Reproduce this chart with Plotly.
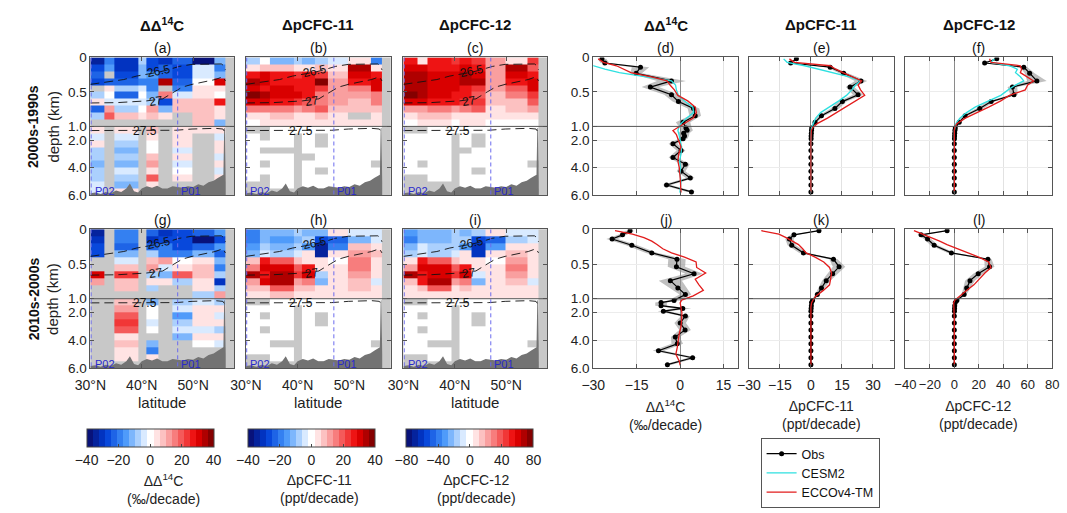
import plotly.graph_objects as go

# ---------------------------------------------------------------- data
N = None
LAT_EDGES = [30, 32.8, 34.7, 39.3, 40.9, 43.3, 45.9, 49.8, 54.1, 56.3]
DEPTH_EDGES = [0, 0.1, 0.2, 0.3, 0.4, 0.5, 0.6, 0.7, 0.8, 0.9, 1.0,
               1.5, 2.0, 2.5, 3.0, 3.5, 4.0, 4.5, 5.0, 5.5, 6.0]

# (a) DD14C 2000s-1990s
D14C_A = [
    [-36, -20, -30, -8, -28, -30, -24, -38, -12],
    [-26, -14, -30, -10, -26, -22, -28, -3, -20],
    [-22, N, -26, -12, -16, -24, -28, -2, -10],
    [-26, -22, -22, -20, -18, 36, -24, 1, 30],
    [N, 3, -8, -2, -20, N, -20, 2, 5],
    [-8, 1, -22, 0, -10, 16, -4, 4, 0],
    [3, -5, -4, -3, -8, -26, 6, 6, 28],
    [-22, 12, -8, 1, 10, -10, 8, 6, 5],
    [-8, 20, 8, 2, 6, 3, N, 8, 2],
    [N, N, N, N, N, N, N, 6, -10],
    [4, N, 3, N, 6, N, 5, 5, 4],
    [-3, N, -5, N, 2, N, 2, N, -2],
    [4, N, -8, N, 1, N, 4, N, 3],
    [-6, N, -10, N, 0, N, -3, N, 4],
    [-8, N, -6, N, 8, N, 2, N, -2],
    [-10, N, -10, N, 10, N, -4, N, 5],
    [-6, N, -4, N, 2, N, 0, N, -3],
    [-8, N, -8, N, 18, N, 3, N, 2],
    [-5, N, -10, N, 4, N, N, N, N],
    [-3, N, 3, N, N, N, N, N, N],
]
# (b) DpCFC-11 2000s-1990s
CFC11_A = [
    [-8, 1, -10, -8, -10, -8, -5, 2, -20],
    [2, 8, 6, 3, 5, 6, 2, 36, 4],
    [28, 30, 26, 24, 26, 22, 8, 30, 26],
    [34, 30, 28, 26, 28, 38, 10, 28, 32],
    [32, 28, 30, 28, 26, 22, 12, 14, 30],
    [38, 36, 32, 30, 26, 16, 12, 12, 16],
    [32, 30, 28, 24, 18, 14, 12, 8, 14],
    [14, 16, 14, 12, 14, 20, 6, 8, 6],
    [2, 5, 6, 4, 5, 6, 3, N, 4],
    [1, 2, 3, 2, 2, 3, 2, 4, 2],
    [N, N, 0, 0, 1, 0, 0, 0, 0],
    [0, N, 0, N, 0, N, 0, 0, 0],
    [0, 0, 0, N, 0, N, 0, 0, 0],
    [0, N, N, N, 0, 0, 0, 0, 0],
    [0, 0, 0, N, N, 0, 0, 0, 0],
    [0, N, 0, N, 0, 0, 0, 0, N],
    [0, 0, 0, N, 0, N, 0, 0, 0],
    [0, N, 0, N, 0, 0, 0, 0, 0],
    [N, N, 0, N, 0, 0, 0, 0, 0],
    [N, N, N, N, N, N, N, N, N],
]
# (c) DpCFC-12 2000s-1990s
CFC12_A = [
    [50, 10, 50, 45, 50, 45, 25, 5, 45],
    [60, 60, 55, 55, 60, 50, 25, 72, 40],
    [65, 70, 60, 60, 65, 60, 25, 60, 55],
    [72, 72, 60, 62, 70, 66, 22, 50, 60],
    [70, 65, 62, 60, 55, 45, 20, 35, 62],
    [74, 72, 62, 55, 50, 40, 18, 30, 45],
    [62, 60, 55, 50, 42, 45, 15, 18, 35],
    [20, 25, 28, 26, 30, 40, 10, 14, 20],
    [5, 12, 14, 10, 10, 10, 4, 5, 8],
    [2, 4, 5, 3, 4, 4, 2, 3, 2],
    [N, N, 0, 0, 0, 0, 0, 0, 0],
    [0, 0, 0, N, 0, N, 0, 0, 0],
    [0, 0, 0, N, 0, N, 0, 0, 0],
    [0, 0, 0, N, N, 0, 0, 0, 0],
    [0, 0, 0, N, 0, 0, 0, 0, 0],
    [0, N, 0, N, 0, 0, 0, 0, N],
    [0, 0, 0, N, 0, N, 0, 0, 0],
    [N, N, 0, N, 0, 0, 0, 0, 0],
    [N, N, N, N, 0, 0, 0, 0, 0],
    [N, N, N, N, N, N, N, N, N],
]
# (g) DD14C 2010s-2000s
D14C_B = [
    [-36, N, -18, N, -22, -30, -28, -22, -16],
    [-30, N, -20, N, -30, -26, -26, -38, -26],
    [-26, N, -22, N, -22, -20, -28, -24, -14],
    [-28, N, -12, N, -8, -20, -18, -10, -24],
    [N, N, -4, N, 6, 10, 0, 2, -10],
    [N, N, 6, N, 12, -4, 3, 6, -20],
    [30, N, 22, N, -6, -10, 20, 8, -6],
    [12, N, 8, N, 2, 4, -6, 4, -30],
    [N, N, 6, N, -6, N, N, 2, -6],
    [N, N, N, N, N, N, N, -8, 12],
    [N, N, 6, N, -10, N, -8, -3, -6],
    [N, N, 10, N, 0, N, -3, 2, 2],
    [N, N, 18, N, 0, N, -14, 4, -3],
    [N, N, 22, N, -5, N, -6, 2, 5],
    [N, N, 20, N, 0, N, -3, -4, -6],
    [N, N, 4, N, N, N, -10, 3, 2],
    [N, N, 8, N, -10, N, N, 0, -3],
    [N, N, 4, N, -20, N, N, N, N],
    [N, N, 3, N, 4, N, N, N, N],
    [N, N, N, N, N, N, N, N, N],
]
# (h) DpCFC-11 2010s-2000s
CFC11_B = [
    [-18, -10, -12, -6, -12, -10, 2, -2, -4],
    [-20, -12, -14, -10, -8, -28, -24, -10, -3],
    [-14, -6, -10, -8, -16, -34, -18, 6, 4],
    [-10, -4, -8, -2, 4, -36, 2, 10, 6],
    [6, 28, 20, 8, 4, 4, 0, 14, 4],
    [14, 30, 32, 18, 28, 4, 2, 14, 2],
    [36, 28, 34, 24, 32, -6, 2, 12, 4],
    [10, 30, 36, 10, 16, -12, 4, 6, -4],
    [6, 8, 20, 6, 6, 4, 4, 6, 2],
    [2, 4, 6, 3, 3, 2, 2, 3, 2],
    [N, N, 0, 0, 0, 0, 0, 0, 0],
    [0, 0, 0, N, 0, 0, 0, 0, 0],
    [0, N, 0, N, 0, N, 0, 0, 0],
    [0, 0, 0, N, 0, N, 0, 0, 0],
    [0, N, 0, N, 0, 0, 0, 0, 0],
    [0, 0, 0, N, 0, 0, 0, 0, 0],
    [0, 0, N, N, 0, 0, 0, 0, N],
    [0, 0, 0, N, 0, 0, 0, 0, 0],
    [N, N, 0, N, 0, 0, 0, 0, 0],
    [N, N, N, N, N, N, N, N, N],
]
# (i) DpCFC-12 2010s-2000s
CFC12_B = [
    [-30, -20, -22, -12, -20, -18, 4, -4, -6],
    [-36, -22, -26, -18, -16, -52, -44, -16, -4],
    [-26, -10, -18, -14, -30, -62, -30, 10, 8],
    [-18, -6, -14, -4, 8, -64, 4, 18, 10],
    [10, 52, 40, 16, 8, 6, 2, 26, 6],
    [26, 58, 60, 36, 52, 8, 4, 28, 4],
    [68, 54, 62, 46, 60, -10, 4, 22, 6],
    [18, 56, 66, 20, 30, -20, 6, 12, -6],
    [10, 14, 36, 10, 12, 6, 6, 10, 4],
    [4, 6, 10, 6, 6, 4, 4, 6, 4],
    [N, N, 0, 0, 0, 0, 0, 0, 0],
    [0, 0, 0, N, 0, 0, 0, 0, 0],
    [0, N, 0, N, 0, N, 0, 0, 0],
    [0, 0, 0, N, 0, N, 0, 0, 0],
    [0, N, 0, N, 0, 0, 0, 0, 0],
    [0, 0, 0, N, 0, 0, 0, 0, 0],
    [0, 0, N, N, 0, 0, 0, 0, N],
    [0, 0, 0, N, 0, 0, 0, 0, 0],
    [N, N, 0, N, 0, 0, 0, 0, 0],
    [N, N, N, N, N, N, N, N, N],
]

BATHY_LAT = [30, 31, 32, 33, 34, 35, 36, 37, 37.7, 38.5, 39.3, 40, 41, 42, 43, 44,
             45, 46, 47, 48, 49, 50, 51, 52, 53, 54, 54.8, 55.4, 55.9, 56.05, 56.2, 56.35]
BATHY_DEP = [5.85, 5.8, 5.9, 5.75, 5.85, 5.65, 5.75, 5.5, 5.15, 5.7, 5.8, 5.5, 5.35, 5.45,
             5.3, 5.5, 5.5, 5.35, 5.4, 5.45, 5.35, 5.4, 5.2, 5.3, 5.05, 4.95, 4.75, 4.6,
             4.5, 1.15, 1.1, 5.0]
MAX_DEPTH = 6.0

ISO265_LAT = [30, 32.7, 36.5, 39, 40.9, 43.5, 45.5, 47.3, 49.8, 53, 55.5, 56.0, 56.3]
ISO265_DEP = [0.39, 0.36, 0.32, 0.27, 0.245, 0.21, 0.17, 0.13, 0.10, 0.095, 0.094, 0.12, 0.18]
ISO27_LAT = [30, 35.2, 40.9, 44.1, 46.3, 47.9, 49.8, 54.3, 55.8, 56.3]
ISO27_DEP = [0.66, 0.655, 0.63, 0.6, 0.5, 0.43, 0.39, 0.32, 0.28, 0.34]
ISO275_LAT = [30, 41.5, 46.6, 49.8, 54.3, 55.8, 56.3]
ISO275_DEP = [1.30, 1.30, 1.28, 1.19, 1.14, 1.19, 1.47]
ISO_LABELS = [("26.5", 43.3, 0.2, -12), ("27", 42.7, 0.63, -8), ("27.5", 40.6, 1.32, 0)]
P02_LAT = 30.15
P01_LAT = 47.0

# profiles
D_OBS = [0.02, 0.08, 0.14, 0.23, 0.34, 0.43, 0.54, 0.64, 0.74, 0.845, 0.94, 1.12,
         1.28, 1.5, 1.7, 1.9, 2.25, 2.75, 3.25, 3.75, 4.25, 4.75, 5.25, 5.75]
D_MOD = [0.02, 0.07, 0.12, 0.17, 0.22, 0.28, 0.34, 0.4, 0.47, 0.55, 0.63, 0.72, 0.8,
         0.88, 0.96, 1.1, 1.3, 1.6, 2.0, 2.5, 3.0, 3.5, 4.0, 4.5, 5.0, 5.5, 5.8]

OBS_D14C_A = [-27, -26, -13.7, -15.2, -3, -10.3, -3, -0.6, 4.6, 5.2, 1.0, 2.0, 2.4, 1.2,
              1.5, 1.0, -2.5, 0.3, -2.5, 1.8, 0.3, 3.5, -4.7, 3.9]
ERR_D14C_A = [1.5, 1.5, 3, 2, 5, 3, 2.5, 2, 2, 2, 2.5, 2, 2, 2, 1.5, 1.5, 1.5, 1.5,
              1.5, 1.5, 1.5, 1.5, 1.5, 1.5]
CESM_D14C_A = [-38, -34, -30.2, -26, -21, -12, -3, -1.6, -1.3, -0.6, 1.5, 4.4, 4.6, 2.2,
               0.3, -0.5, -0.8, -0.4, 0.0, 0.5, 0.3, -0.2, 0.1, 0.0, 0.3, 0.0, -0.1]
ECCO_D14C_A = [-28.3, -26.5, -22, -19.5, -17, -10, -4.5, -3.5, -2, -0.8, 2.6, 5.2, 5.6,
               4.5, 1.2, -1, -2.5, -1.3, -0.5, 0.3, -0.5, -0.8, -0.3, 0.0, 0.1, 0.2, 0.3]

OBS_CFC11_A = [-7, -9.8, 9.3, 15.8, 24.2, 18.9, 22.8, 15.2, 11.6, 5.1, 2.0, 0.4, 0.3,
               0.2, 0.1, 0.1, 0, 0, 0, 0, 0, 0, 0, 0]
ERR_CFC11_A = [1, 1, 1.5, 2, 3, 2, 2.5, 2, 2, 1.5, 1, 0.5, 0.5, 0.4, 0.3, 0.3, 0.3,
               0.3, 0.3, 0.3, 0.3, 0.3, 0.3, 0.3]
CESM_CFC11_A = [-13.2, -11.5, -3, 3.5, 10, 18.6, 24, 21.5, 19.8, 17.2, 13.5, 8.5, 4.7,
                2.3, 1.0, 0.3, 0.1, 0, 0, 0, 0, 0, 0, 0, 0, 0, 0]
ECCO_CFC11_A = [-10.4, -8, 9.3, 12, 15.5, 20, 24.5, 22.8, 24, 26, 21.7, 17, 12.5, 8, 3,
                0.8, 0.2, 0, 0, 0, 0, 0, 0, 0, 0, 0, 0]

OBS_CFC12_A = [34.7, 24.8, 56.8, 61.6, 67.5, 47.5, 48.8, 30.1, 20.8, 8.8, 4, 0.8, 0.5,
               0.3, 0.2, 0.1, 0, 0, 0, 0, 0, 0, 0, 0]
ERR_CFC12_A = [2, 2, 3, 4, 8, 4, 3, 3, 3, 2, 1.5, 0.6, 0.5, 0.5, 0.5, 0.5, 0.5, 0.5,
               0.5, 0.5, 0.5, 0.5, 0.5, 0.5]
CESM_CFC12_A = [32.8, 30, 45, 51.5, 50, 54, 56.8, 50, 44, 38, 28, 17, 10, 4.5, 1.2, 0.3,
                0, 0, 0, 0, 0, 0, 0, 0, 0, 0, 0]
ECCO_CFC12_A = [28.8, 30, 54, 55, 54, 60, 64.8, 60, 58, 45, 38, 28, 18, 9, 2, 0.3, 0, 0,
                0, 0, 0, 0, 0, 0, 0, 0, 0]

OBS_D14C_B = [-17.3, -19.9, -23.5, -16.7, -9.8, -1.1, -1.3, 4.8, -3.4, -0.8, 1.8, -2.1,
              -6.6, -6.6, 0.9, -5.8, 1.8, 0, 1.7, -1.7, -1.0, -7.5, 4.3, -4.4]
ERR_D14C_B = [1.5, 1.5, 2, 2, 2, 3, 3, 3, 4, 3, 2, 2, 2, 2, 3, 2, 1.5, 2, 2, 1.5, 2, 2,
              1.5, 1.5]
ECCO_D14C_B = [-22.5, -16.5, -12.5, -9.8, -8, -6, -3, 1.5, 5.5, 5.7, 8.8, 5.2, 6.5, 8,
               4.5, 0.5, 0, 0.3, 0.6, 0.5, 0.3, -0.3, -0.6, -1.0, -1.5, -0.3, 0]

OBS_CFC11_B = [3.9, -8.2, -10.4, -9.3, -3.6, 10.9, 13.6, 10.5, 7.4, 5.1, 3.1, 0.8, 0.3,
               0.2, 0.1, 0, 0, 0, 0, 0, 0, 0, 0, 0]
ERR_CFC11_B = [1, 1.5, 2, 2, 2, 2, 3, 2.5, 2, 1.5, 1, 0.5, 0.4, 0.3, 0.3, 0.3, 0.3, 0.3,
               0.3, 0.3, 0.3, 0.3, 0.3, 0.3]
ECCO_CFC11_B = [-24, -15.5, -12, -9.3, -6, -4, -2.3, 2, 6.2, 9, 10, 9.5, 9, 6, 2.5, 1,
                0.3, 0, 0, 0, 0, 0, 0, 0, 0, 0, 0]

OBS_CFC12_B = [-5.9, -27.2, -21.9, -16.5, -2.4, 27.5, 28.8, 19.5, 12.8, 10.1, 8.0, 2.1,
               0.8, 0.3, 0.2, 0.1, 0, 0, 0, 0, 0, 0, 0, 0]
ERR_CFC12_B = [2, 3, 3, 3, 3, 3, 4, 4, 4, 3, 2, 1, 0.6, 0.5, 0.5, 0.5, 0.5, 0.5, 0.5,
               0.5, 0.5, 0.5, 0.5, 0.5]
ECCO_CFC12_B = [-33, -26, -18, -12, -6, 3, 11.5, 20, 28, 30, 25, 20, 16, 10, 4, 0.5,
                -0.5, -0.3, 0, 0, 0, 0, 0, 0, 0, 0, 0]

YTICKS = [0, 0.5, 1.0, 2.0, 4.0, 6.0]
YTICKTEXT = ["0", "0.5", "1.0", "2.0", "4.0", "6.0"]
LAT_TICKS = [30, 40, 50]
LAT_TICKTEXT = ["30°N", "40°N", "50°N"]

# ---------------------------------------------------------------- helpers
W, H = 1067, 513
FONT = "Liberation Sans, Arial, sans-serif"


def fx(p):
    return p / W


def fy(p):
    return 1 - p / H


def zd(d):
    """Broken depth axis: 0-1 km and 1-6 km each take half the height."""
    if d is None:
        return None
    return d if d <= 1 else 1 + (d - 1) / 5


def zl(ds):
    return [zd(d) for d in ds]


BASE = [(0.0, (10, 10, 105)), (0.15, (0, 62, 215)), (0.3, (70, 150, 250)),
        (0.45, (215, 233, 255)), (0.5, (255, 255, 255)), (0.55, (255, 226, 226)),
        (0.7, (246, 118, 118)), (0.86, (236, 0, 0)), (1.0, (112, 0, 0))]


def base_color(t):
    for (t0, c0), (t1, c1) in zip(BASE[:-1], BASE[1:]):
        if t0 <= t <= t1:
            f = (t - t0) / (t1 - t0)
            return "rgb(%d,%d,%d)" % tuple(round(a + (b - a) * f) for a, b in zip(c0, c1))
    return "rgb(%d,%d,%d)" % BASE[-1][1]


NSTEP = 21
CSCALE = []
for i in range(NSTEP):
    c = base_color((i + 0.5) / NSTEP)
    CSCALE.append([i / NSTEP, c])
    CSCALE.append([(i + 1) / NSTEP, c])

HM_X = [(76, 223), (235, 383), (396, 543)]
PR_X = [(590, 738), (749, 897), (909, 1059)]
ROW_Y = [(52, 194), (229, 372)]
CB_X = [137, 302, 464]

HEAT = [[D14C_A, CFC11_A, CFC12_A], [D14C_B, CFC11_B, CFC12_B]]
PROF = [
    [(OBS_D14C_A, ERR_D14C_A, CESM_D14C_A, ECCO_D14C_A),
     (OBS_CFC11_A, ERR_CFC11_A, CESM_CFC11_A, ECCO_CFC11_A),
     (OBS_CFC12_A, ERR_CFC12_A, CESM_CFC12_A, ECCO_CFC12_A)],
    [(OBS_D14C_B, ERR_D14C_B, None, ECCO_D14C_B),
     (OBS_CFC11_B, ERR_CFC11_B, None, ECCO_CFC11_B),
     (OBS_CFC12_B, ERR_CFC12_B, None, ECCO_CFC12_B)],
]
PR_RANGE = [[-30, 20], [-30, 40], [-40, 80]]
PR_TICKS = [[-30, -15, 0, 15], [-30, -15, 0, 15, 30], [-40, -20, 0, 20, 40, 60, 80]]
LETTERS = [["(a)", "(b)", "(c)", "(d)", "(e)", "(f)"], ["(g)", "(h)", "(i)", "(j)", "(k)", "(l)"]]

fig = go.Figure()
layout = dict()
shapes = []
annotations = []


def paper_text(text, px, py, size, angle=0, color="#222", yanchor="middle"):
    annotations.append(dict(text=text, x=fx(px), y=fy(py), xref="paper", yref="paper",
                            xanchor="center", yanchor=yanchor, showarrow=False,
                            textangle=angle, font=dict(size=size, color=color)))


AX_COMMON = dict(showline=True, linecolor="#555", linewidth=1, mirror="ticks",
                 ticks="inside", ticklen=4, tickcolor="#555", tickangle=0,
                 tickfont=dict(size=14, color="#222"))

for row in range(2):
    y0, y1 = ROW_Y[row]
    for k in range(6):
        n = row * 6 + k + 1
        sfx = "" if n == 1 else str(n)
        xa, ya = f"x{sfx}", f"y{sfx}"
        col = k % 3
        if k < 3:
            px0, px1 = HM_X[col]
        else:
            px0, px1 = PR_X[col]
        xdom = [fx(px0), fx(px1)]
        ydom = [fy(y1), fy(y0)]
        yax = dict(AX_COMMON, domain=ydom, anchor=xa, range=[zd(MAX_DEPTH), 0],
                   tickvals=zl(YTICKS), ticktext=YTICKTEXT,
                   tickfont=dict(size=13.5, color="#222"),
                   showticklabels=(col == 0), zeroline=False)
        if k < 3:
            xax = dict(AX_COMMON, domain=xdom, anchor=ya, range=[30, 58],
                       tickvals=LAT_TICKS, ticktext=LAT_TICKTEXT, ticklabelstandoff=4,
                       showticklabels=(row == 1), showgrid=False, zeroline=False)
            yax["showgrid"] = False
            # gray "no data" background
            shapes.append(dict(type="rect", xref=f"{xa} domain", yref=f"{ya} domain",
                               x0=0, x1=1, y0=0, y1=1, fillcolor="#c8c8c8",
                               line=dict(width=0), layer="below"))
            ca = "coloraxis" if col == 0 else f"coloraxis{col + 1}"
            fig.add_trace(go.Heatmap(x=LAT_EDGES, y=zl(DEPTH_EDGES), z=HEAT[row][col],
                                     coloraxis=ca, xaxis=xa, yaxis=ya, hoverongaps=False))
            # bathymetry
            fig.add_trace(go.Scatter(
                x=BATHY_LAT + [BATHY_LAT[-1], BATHY_LAT[0]],
                y=zl(BATHY_DEP + [MAX_DEPTH, MAX_DEPTH]),
                fill="toself", fillcolor="#737373", line=dict(width=0), mode="lines",
                showlegend=False, xaxis=xa, yaxis=ya, hoverinfo="skip"))
            # isopycnals
            for lats, deps in ((ISO265_LAT, ISO265_DEP), (ISO27_LAT, ISO27_DEP),
                               (ISO275_LAT, ISO275_DEP)):
                fig.add_trace(go.Scatter(x=lats, y=zl(deps), mode="lines",
                                         line=dict(color="#111", width=0.9, dash="9px,5px"),
                                         showlegend=False, xaxis=xa, yaxis=ya,
                                         hoverinfo="skip"))
            for txt, la, de, ang in ISO_LABELS:
                annotations.append(dict(text=txt, x=la, y=zd(de), xref=xa, yref=ya,
                                        xanchor="center", yanchor="middle",
                                        showarrow=False, textangle=ang,
                                        font=dict(size=12, color="#111")))
            # section lines
            for lat in (P02_LAT, P01_LAT):
                fig.add_trace(go.Scatter(x=[lat, lat], y=zl([0, MAX_DEPTH]), mode="lines",
                                         line=dict(color="#6b6bee", width=1, dash="4px,3px"),
                                         showlegend=False, xaxis=xa, yaxis=ya,
                                         hoverinfo="skip"))
            for lab, lat in (("P02", P02_LAT), ("P01", P01_LAT)):
                annotations.append(dict(text=lab, x=lat + 0.3, y=zd(5.72), xref=xa,
                                        yref=ya, xanchor="left", yanchor="middle",
                                        showarrow=False,
                                        font=dict(size=11, color="#2a2acc")))
        else:
            obs, err, cesm, ecco = PROF[row][col]
            xax = dict(AX_COMMON, domain=xdom, anchor=ya, range=PR_RANGE[col],
                       tickvals=PR_TICKS[col], showticklabels=(row == 1),
                       ticklabelstandoff=4,
                       showgrid=True, gridcolor="#e2e2e2", gridwidth=1,
                       zeroline=True, zerolinecolor="#8a8a8a", zerolinewidth=1,
                       tickfont=dict(size=14 if col < 2 else 13, color="#222"))
            yax["showgrid"] = True
            yax["gridcolor"] = "#ececec"
            lo = [o - e for o, e in zip(obs, err)]
            hi = [o + e for o, e in zip(obs, err)]
            fig.add_trace(go.Scatter(x=lo + hi[::-1], y=zl(D_OBS) + zl(D_OBS)[::-1],
                                     fill="toself", fillcolor="rgba(150,150,150,0.6)",
                                     line=dict(width=0), mode="lines", showlegend=False,
                                     xaxis=xa, yaxis=ya, hoverinfo="skip"))
            first = (row == 0 and col == 0)
            fig.add_trace(go.Scatter(x=obs, y=zl(D_OBS), mode="lines+markers", name="Obs",
                                     line=dict(color="black", width=1.2),
                                     marker=dict(color="black", size=5),
                                     showlegend=first, legendrank=1, xaxis=xa, yaxis=ya))
            if cesm is not None:
                fig.add_trace(go.Scatter(x=cesm, y=zl(D_MOD), mode="lines", name="CESM2",
                                         line=dict(color="#2ee0e0", width=1.3),
                                         showlegend=first, legendrank=2, xaxis=xa, yaxis=ya))
            fig.add_trace(go.Scatter(x=ecco, y=zl(D_MOD), mode="lines", name="ECCOv4-TM",
                                     line=dict(color="#e21c1c", width=1.3),
                                     showlegend=first, legendrank=3, xaxis=xa, yaxis=ya))
        # 1 km break line
        shapes.append(dict(type="line", xref=f"{xa} domain", yref=ya, x0=0, x1=1,
                           y0=zd(1.0), y1=zd(1.0), line=dict(color="#555", width=1)))
        layout[f"xaxis{sfx}"] = xax
        layout[f"yaxis{sfx}"] = yax
        paper_text(LETTERS[row][k], (px0 + px1) / 2, y0 - 10, 14, color="#111")

# column headers
HEADERS = ["<b>ΔΔ<sup>14</sup>C</b>", "<b>ΔpCFC-11</b>", "<b>ΔpCFC-12</b>"]
for col in range(3):
    for xs in (HM_X, PR_X):
        paper_text(HEADERS[col], sum(xs[col]) / 2, 18, 15, color="#111")
# latitude labels
for col in range(3):
    paper_text("latitude", sum(HM_X[col]) / 2, 407, 15)
# profile x titles and colorbar titles
PR_TITLES = ["ΔΔ<sup>14</sup>C<br>(‰/decade)", "ΔpCFC-11<br>(ppt/decade)",
             "ΔpCFC-12<br>(ppt/decade)"]
for col in range(3):
    paper_text(PR_TITLES[col], sum(PR_X[col]) / 2, 420, 14)
    paper_text(PR_TITLES[col], sum(HM_X[col]) / 2 + 1, 497, 14)
# row labels
for row, lab in enumerate(["<b>2000s-1990s</b>", "<b>2010s-2000s</b>"]):
    yc = sum(ROW_Y[row]) / 2
    paper_text(lab, 18, yc, 14, angle=-90, color="#111")
    paper_text("depth (km)", 38, yc, 15, angle=-90)

CB_TICKS = [[-40, -20, 0, 20, 40], [-40, -20, 0, 20, 40], [-80, -40, 0, 40, 80]]
CB_LIM = [40, 40, 80]
for col in range(3):
    key = "coloraxis" if col == 0 else f"coloraxis{col + 1}"
    layout[key] = dict(
        colorscale=CSCALE, cmin=-CB_LIM[col], cmax=CB_LIM[col],
        colorbar=dict(orientation="h", x=fx(CB_X[col]), xanchor="center",
                      y=fy(435), yanchor="top", len=127, lenmode="pixels",
                      thickness=18, thicknessmode="pixels", outlinewidth=1,
                      outlinecolor="#444", tickvals=CB_TICKS[col], ticks="inside",
                      ticklen=3, tickcolor="#444", tickfont=dict(size=14, color="#222"),
                      xpad=0, ypad=0))

fig.update_layout(
    width=W, height=H, margin=dict(l=0, r=0, t=0, b=0),
    paper_bgcolor="white", plot_bgcolor="white",
    font=dict(family=FONT, color="#222"),
    shapes=shapes, annotations=annotations,
    legend=dict(x=fx(761), y=fy(444), xanchor="left", yanchor="top",
                bordercolor="#555", borderwidth=1, bgcolor="white",
                font=dict(size=12.5, color="#111"), tracegroupgap=0, itemwidth=30),
    **layout,
)

fig.write_html("out.html")
